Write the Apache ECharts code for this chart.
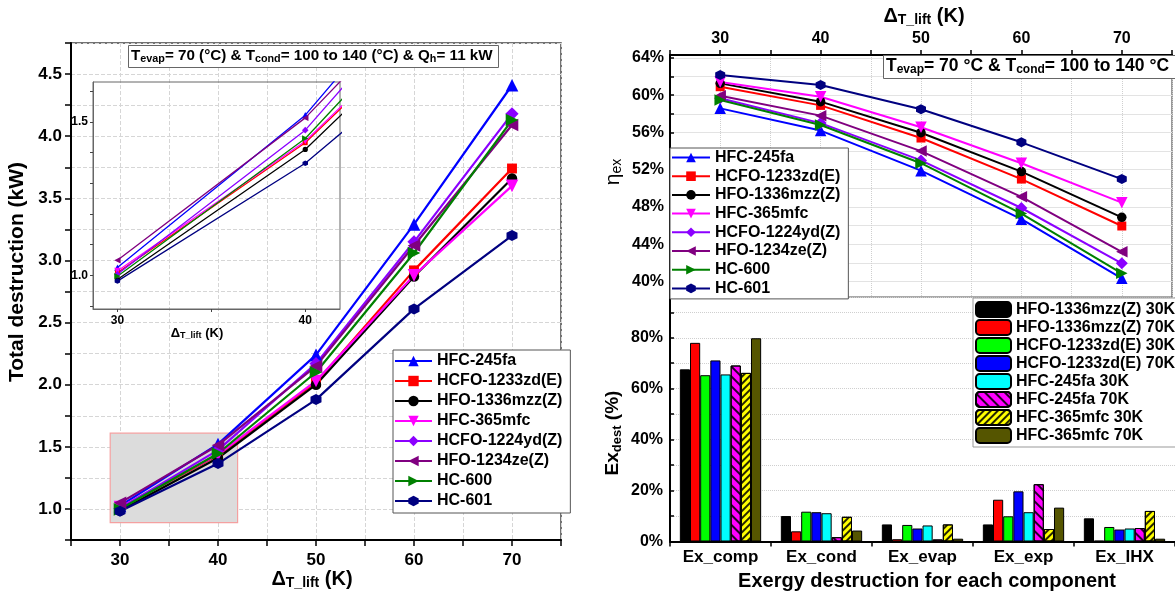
<!DOCTYPE html>
<html><head><meta charset="utf-8">
<script src="https://cdn.jsdelivr.net/npm/echarts@6/dist/echarts.min.js"></script>
<style>html,body{margin:0;padding:0;background:#fff}#c{width:1175px;height:596px}</style>
</head><body><div id="c"></div>
<script>
// ---------- data ----------
const lift = [30, 40, 50, 60, 70];
const refrigerants = ['HFC-245fa','HCFO-1233zd(E)','HFO-1336mzz(Z)','HFC-365mfc','HCFO-1224yd(Z)','HFO-1234ze(Z)','HC-600','HC-601'];
// total exergy destruction (kW)
const destHFC245fa   = [1.025, 1.522, 2.24, 3.29, 4.41];
const destHCFO1233zd = [1.008, 1.432, 2.02, 2.92, 3.74];
const destHFO1336mzz = [0.986, 1.410, 2.00, 2.87, 3.66];
const destHFC365mfc  = [1.014, 1.437, 2.03, 2.88, 3.60];
const destHCFO1224yd = [1.003, 1.473, 2.17, 3.15, 4.18];
const destHFO1234ze  = [1.049, 1.513, 2.15, 3.12, 4.09];
const destHC600      = [0.997, 1.446, 2.10, 3.06, 4.13];
const destHC601      = [0.981, 1.365, 1.88, 2.61, 3.20];
// exergy efficiency (%)
const effHFC245fa   = [58.58, 56.2, 51.9, 46.7, 40.36];
const effHCFO1233zd = [60.9, 58.9, 55.4, 51.0, 45.97];
const effHFO1336mzz = [61.26, 59.3, 55.97, 51.8, 46.9];
const effHFC365mfc  = [61.4, 59.83, 56.55, 52.7, 48.47];
const effHCFO1224yd = [59.66, 57.0, 53.0, 47.9, 41.97];
const effHFO1234ze  = [59.94, 57.8, 54.0, 49.1, 43.2];
const effHC600      = [59.47, 56.8, 52.7, 47.3, 40.9];
const effHC601      = [62.15, 61.08, 58.48, 54.94, 51.0];
// exergy destruction share by component (%)
const components = ['Ex_comp','Ex_cond','Ex_evap','Ex_exp','Ex_IHX'];
const barNames = ['HFO-1336mzz(Z) 30K','HFO-1336mzz(Z) 70K','HCFO-1233zd(E) 30K','HCFO-1233zd(E) 70K','HFC-245fa 30K','HFC-245fa 70K','HFC-365mfc 30K','HFC-365mfc 70K'];
const exHFO1336mzz30 = [67.6, 10.0, 6.7, 6.7, 9.1];
const exHFO1336mzz70 = [78.0, 4.0, 0.9, 16.4, 0.3];
const exHCFO1233zd30 = [65.3, 11.7, 6.5, 9.9, 5.7];
const exHCFO1233zd70 = [71.1, 11.5, 5.1, 19.7, 4.7];
const exHFC245fa30   = [65.6, 11.1, 6.3, 11.5, 5.1];
const exHFC245fa70   = [69.1, 1.7, 0.8, 22.5, 5.3];
const exHFC365mfc30  = [66.2, 9.7, 6.7, 4.9, 12.0];
const exHFC365mfc70  = [79.8, 4.3, 1.1, 13.3, 1.1];
// zoomed region marked on the left chart [x0, y0, x1, y1]
const zoomBox = [29, 0.89, 42, 1.61];
// axis tick values
const insetXTicks = [30, 35, 40];
const insetXLabels = [30, 40];
const insetYTicks = [0.9, 1.0, 1.1, 1.2, 1.3, 1.4, 1.5, 1.6];
const insetYLabels = [1.0, 1.5];
const effTicks = [40, 42, 44, 46, 48, 50, 52, 54, 56, 58, 60, 62, 64];
const effLabels = [40, 44, 48, 52, 56, 60, 64];

// ---------- styling ----------
const FONT = '"Liberation Sans", Arial, sans-serif';
const destSets = [destHFC245fa, destHCFO1233zd, destHFO1336mzz, destHFC365mfc, destHCFO1224yd, destHFO1234ze, destHC600, destHC601];
const effSets = [effHFC245fa, effHCFO1233zd, effHFO1336mzz, effHFC365mfc, effHCFO1224yd, effHFO1234ze, effHC600, effHC601];
const barSets = [exHFO1336mzz30, exHFO1336mzz70, exHCFO1233zd30, exHCFO1233zd70, exHFC245fa30, exHFC245fa70, exHFC365mfc30, exHFC365mfc70];
const HEX = 'path://M0,-1L0.866,-0.5L0.866,0.5L0,1L-0.866,0.5L-0.866,-0.5Z';
const lineStyles = [
  {color:'#0000ff', symbol:'triangle', rot:0, k:1.15},
  {color:'#ff0000', symbol:'rect', rot:0, k:0.9},
  {color:'#000000', symbol:'circle', rot:0, k:0.95},
  {color:'#ff00ff', symbol:'triangle', rot:180, k:1.15},
  {color:'#8b00ff', symbol:'diamond', rot:0, k:1.2},
  {color:'#800080', symbol:'triangle', rot:90, k:1.15},
  {color:'#008000', symbol:'triangle', rot:-90, k:1.15},
  {color:'#000080', symbol:HEX, rot:0, k:1.0}
];
const barColors = ['#000000','#ff0000','#00ff00','#0000ff','#00ffff','#ff00ff','#ffff00','#555500'];
const barDecals = [null,null,null,null,null,
  {symbol:'rect', symbolSize:1, color:'rgba(0,0,0,0.85)', dashArrayX:[1,0], dashArrayY:[1.5,4.5], rotation:Math.PI/4},
  {symbol:'rect', symbolSize:1, color:'rgba(0,0,0,0.85)', dashArrayX:[1,0], dashArrayY:[1.2,2.3], rotation:-Math.PI/4},
  null];

const bold = (size) => ({fontSize:size, fontWeight:'bold', fontFamily:FONT, color:'#000'});
const richSub = (big, small, drop) => ({
  n: bold(big),
  s: Object.assign(bold(small), {padding:[drop,0,0,0]})
});

const series = [];
// marked zoom area (behind lines)
series.push({type:'line', xAxisIndex:0, yAxisIndex:0, data:[], z:1, silent:true,
  markArea:{silent:true, itemStyle:{color:'#dcdcdc', borderColor:'#f4a0a0', borderWidth:1.2},
    data:[[{coord:[zoomBox[0], zoomBox[1]]},{coord:[zoomBox[2], zoomBox[3]]}]]}});
refrigerants.forEach((name, i) => {
  const st = lineStyles[i];
  series.push({name, type:'line', xAxisIndex:0, yAxisIndex:0, z:3,
    data: lift.map((x, j) => [x, destSets[i][j]]),
    symbol: st.symbol, symbolRotate: st.rot, symbolSize: 11*st.k, showAllSymbol:true,
    lineStyle:{color:st.color, width:2.2}, itemStyle:{color:st.color}, emphasis:{disabled:true}});
});
refrigerants.forEach((name, i) => {
  const st = lineStyles[i];
  series.push({name, type:'line', xAxisIndex:1, yAxisIndex:1, z:4,
    data: lift.map((x, j) => [x, destSets[i][j]]),
    symbol: st.symbol, symbolRotate: st.rot, symbolSize: 5.5*st.k, clip:true,
    lineStyle:{color:st.color, width:1.3}, itemStyle:{color:st.color}, emphasis:{disabled:true}});
});
refrigerants.forEach((name, i) => {
  const st = lineStyles[i];
  series.push({name, type:'line', xAxisIndex:2, yAxisIndex:2, z:3,
    data: lift.map((x, j) => [x, effSets[i][j]]),
    symbol: st.symbol, symbolRotate: st.rot, symbolSize: 10*st.k,
    lineStyle:{color:st.color, width:2}, itemStyle:{color:st.color}, emphasis:{disabled:true}});
});
barNames.forEach((name, i) => {
  const is = {color:barColors[i], borderColor:'#000', borderWidth:1};
  if (barDecals[i]) is.decal = barDecals[i];
  series.push({name, type:'bar', xAxisIndex:3, yAxisIndex:3, data: barSets[i],
    barGap:'0%', barCategoryGap:'19.5%', itemStyle:is, emphasis:{disabled:true}});
});

const axLine = {show:true, onZero:false, lineStyle:{color:'#000', width:2}};
const dashSplit = {show:true, lineStyle:{type:'dashed', color:'#d6d6d6', width:1}};
const dotSplit = {show:true, lineStyle:{type:'dotted', color:'#cfcfcf', width:1}};

const option = {
  animation:false,
  backgroundColor:'#fff',
  title:[
    {left:128, top:44, padding:[3,6,3,3], borderColor:'#666', borderWidth:1, backgroundColor:'#fff',
     text:'{n|T}{s|evap}{n|= 70 (°C) & T}{s|cond}{n|= 100 to 140 (°C) & Q}{s|h}{n|= 11 kW}',
     textStyle:{rich:richSub(15.2, 10.8, 7)}},
    {left:883, top:55, padding:[2,8,3,3], borderColor:'#666', borderWidth:1, backgroundColor:'#fff',
     text:'{n|T}{s|evap}{n|= 70 °C & T}{s|cond}{n|= 100 to 140 °C}',
     textStyle:{rich:richSub(17.5, 12, 7)}}
  ],
  grid:[
    {left:71, top:43, width:490, height:497, show:true, borderColor:'#444', borderWidth:1.5},
    {left:93, top:82, width:247, height:227, show:true, borderColor:'#666', borderWidth:1, z:1},
    {left:670, top:55, width:507, height:242, show:true, borderColor:'#555', borderWidth:1.2},
    {left:670, top:297, width:507, height:244.5, show:false}
  ],
  xAxis:[
    {gridIndex:0, type:'value', min:25, max:75, interval:5, axisLine:axLine,
     axisTick:{show:true, length:6, lineStyle:{color:'#000', width:1.5}},
     axisLabel:Object.assign(bold(17), {margin:12, formatter:v => (v % 10 === 0 ? String(v) : '')}),
     splitLine:dashSplit},
    {gridIndex:1, type:'value', min:28.7, max:41.85, z:2,
     axisLine:{show:true, onZero:false, lineStyle:{color:'#666', width:1}},
     axisTick:{show:true, length:3, customValues:insetXTicks, lineStyle:{color:'#444'}},
     axisLabel:Object.assign(bold(12), {margin:6, customValues:insetXLabels}),
     splitLine:{show:false}},
    {gridIndex:2, type:'value', position:'top', min:25, max:75, interval:5, axisLine:axLine,
     axisTick:{show:true, inside:false, length:5, lineStyle:{color:'#000', width:1.5}},
     axisLabel:Object.assign(bold(16), {margin:8, formatter:v => (v % 10 === 0 ? String(v) : '')}),
     splitLine:dotSplit},
    {gridIndex:3, type:'category', data:components, axisLine:axLine,
     axisTick:{show:true, length:5, lineStyle:{color:'#000', width:1.5}},
     axisLabel:Object.assign(bold(17), {margin:7}), splitLine:{show:false}}
  ],
  yAxis:[
    {gridIndex:0, type:'value', min:0.75, max:4.75, interval:0.25, axisLine:axLine,
     axisTick:{show:true, length:6, lineStyle:{color:'#000', width:1.5}},
     axisLabel:Object.assign(bold(17), {margin:9, formatter:v => (Math.abs(v*2 - Math.round(v*2)) < 1e-6 ? v.toFixed(1) : '')}),
     splitLine:dashSplit},
    {gridIndex:1, type:'value', min:0.89, max:1.63, z:2,
     axisLine:{show:true, onZero:false, lineStyle:{color:'#666', width:1}},
     axisTick:{show:true, length:3, customValues:insetYTicks, lineStyle:{color:'#444'}},
     axisLabel:Object.assign(bold(12), {margin:5, customValues:insetYLabels, formatter:v => v.toFixed(1)}),
     splitLine:{show:false}},
    {gridIndex:2, type:'value', min:38.36, max:64.3, axisLine:axLine,
     axisTick:{show:true, inside:true, length:4, customValues:effTicks, lineStyle:{color:'#000', width:1.5}},
     axisLabel:Object.assign(bold(16), {margin:6, customValues:effLabels, formatter:v => v + '%'}),
     splitLine:{show:true, lineStyle:{color:'#e3e3e3', width:1}}},
    {gridIndex:3, type:'value', min:0, max:96, interval:10, axisLine:axLine,
     axisTick:{show:true, inside:true, length:4, lineStyle:{color:'#000', width:1.5}},
     axisLabel:Object.assign(bold(16), {margin:7, formatter:v => (v % 20 === 0 ? v + '%' : '')}),
     splitLine:dotSplit}
  ],
  legend:[
    {data:refrigerants, orient:'vertical', left:393, top:350, padding:[2,8,3,1],
     backgroundColor:'#fff', borderColor:'#555', borderWidth:1,
     itemWidth:37, itemHeight:13, itemGap:2, selectedMode:false,
     textStyle:Object.assign(bold(16), {lineHeight:18})},
    {data:refrigerants, orient:'vertical', left:670, top:148, padding:[1,8,2,1],
     backgroundColor:'#fff', borderColor:'#555', borderWidth:1,
     itemWidth:38, itemHeight:12, itemGap:1.7, selectedMode:false,
     textStyle:Object.assign(bold(16), {lineHeight:17})},
    {data:barNames, orient:'vertical', left:973, top:298, padding:[3,8,3,2],
     backgroundColor:'#fff', borderColor:'#999', borderWidth:1,
     itemWidth:35, itemHeight:15, itemGap:1, selectedMode:false,
     textStyle:Object.assign(bold(16), {lineHeight:15})}
  ],
  graphic:[
    {type:'text', x:17, y:272, rotation:Math.PI/2,
     style:{text:'Total destruction (kW)', font:'bold 21px ' + FONT, fill:'#000', align:'center', verticalAlign:'middle'}},
    {type:'text', x:312, y:579,
     style:{text:'{a|Δ}{b|T_lift}{a| (K)}', align:'center', verticalAlign:'middle',
       rich:{a:{fontSize:20, fontWeight:'bold', fontFamily:FONT, fill:'#000'}, b:{fontSize:14, fontWeight:'bold', fontFamily:FONT, fill:'#000', padding:[9,0,0,0]}}}},
    {type:'text', x:197, y:333,
     style:{text:'{a|Δ}{b|T_lift}{a| (K)}', align:'center', verticalAlign:'middle',
       rich:{a:{fontSize:13, fontWeight:'bold', fontFamily:FONT, fill:'#000'}, b:{fontSize:9, fontWeight:'bold', fontFamily:FONT, fill:'#000', padding:[6,0,0,0]}}}},
    {type:'text', x:924, y:16,
     style:{text:'{a|Δ}{b|T_lift}{a| (K)}', align:'center', verticalAlign:'middle',
       rich:{a:{fontSize:20, fontWeight:'bold', fontFamily:FONT, fill:'#000'}, b:{fontSize:14, fontWeight:'bold', fontFamily:FONT, fill:'#000', padding:[9,0,0,0]}}}},
    {type:'text', x:613, y:172, rotation:Math.PI/2,
     style:{text:'{a|η}{b|ex}', align:'center', verticalAlign:'middle',
       rich:{a:{fontSize:21, fontFamily:FONT, fill:'#000'}, b:{fontSize:14, fontFamily:FONT, fill:'#000', padding:[9,0,0,0]}}}},
    {type:'text', x:613, y:433, rotation:Math.PI/2,
     style:{text:'{a|Ex}{b|dest}{a| (%)}', align:'center', verticalAlign:'middle',
       rich:{a:{fontSize:19, fontWeight:'bold', fontFamily:FONT, fill:'#000'}, b:{fontSize:13, fontWeight:'bold', fontFamily:FONT, fill:'#000', padding:[8,0,0,0]}}}},
    {type:'text', x:927, y:581,
     style:{text:'Exergy destruction for each component', font:'bold 20px ' + FONT, fill:'#000', align:'center', verticalAlign:'middle'}}
  ],
  series
};
const chart = echarts.init(document.getElementById('c'), null, {renderer:'canvas'});
chart.setOption(option);
</script></body></html>
